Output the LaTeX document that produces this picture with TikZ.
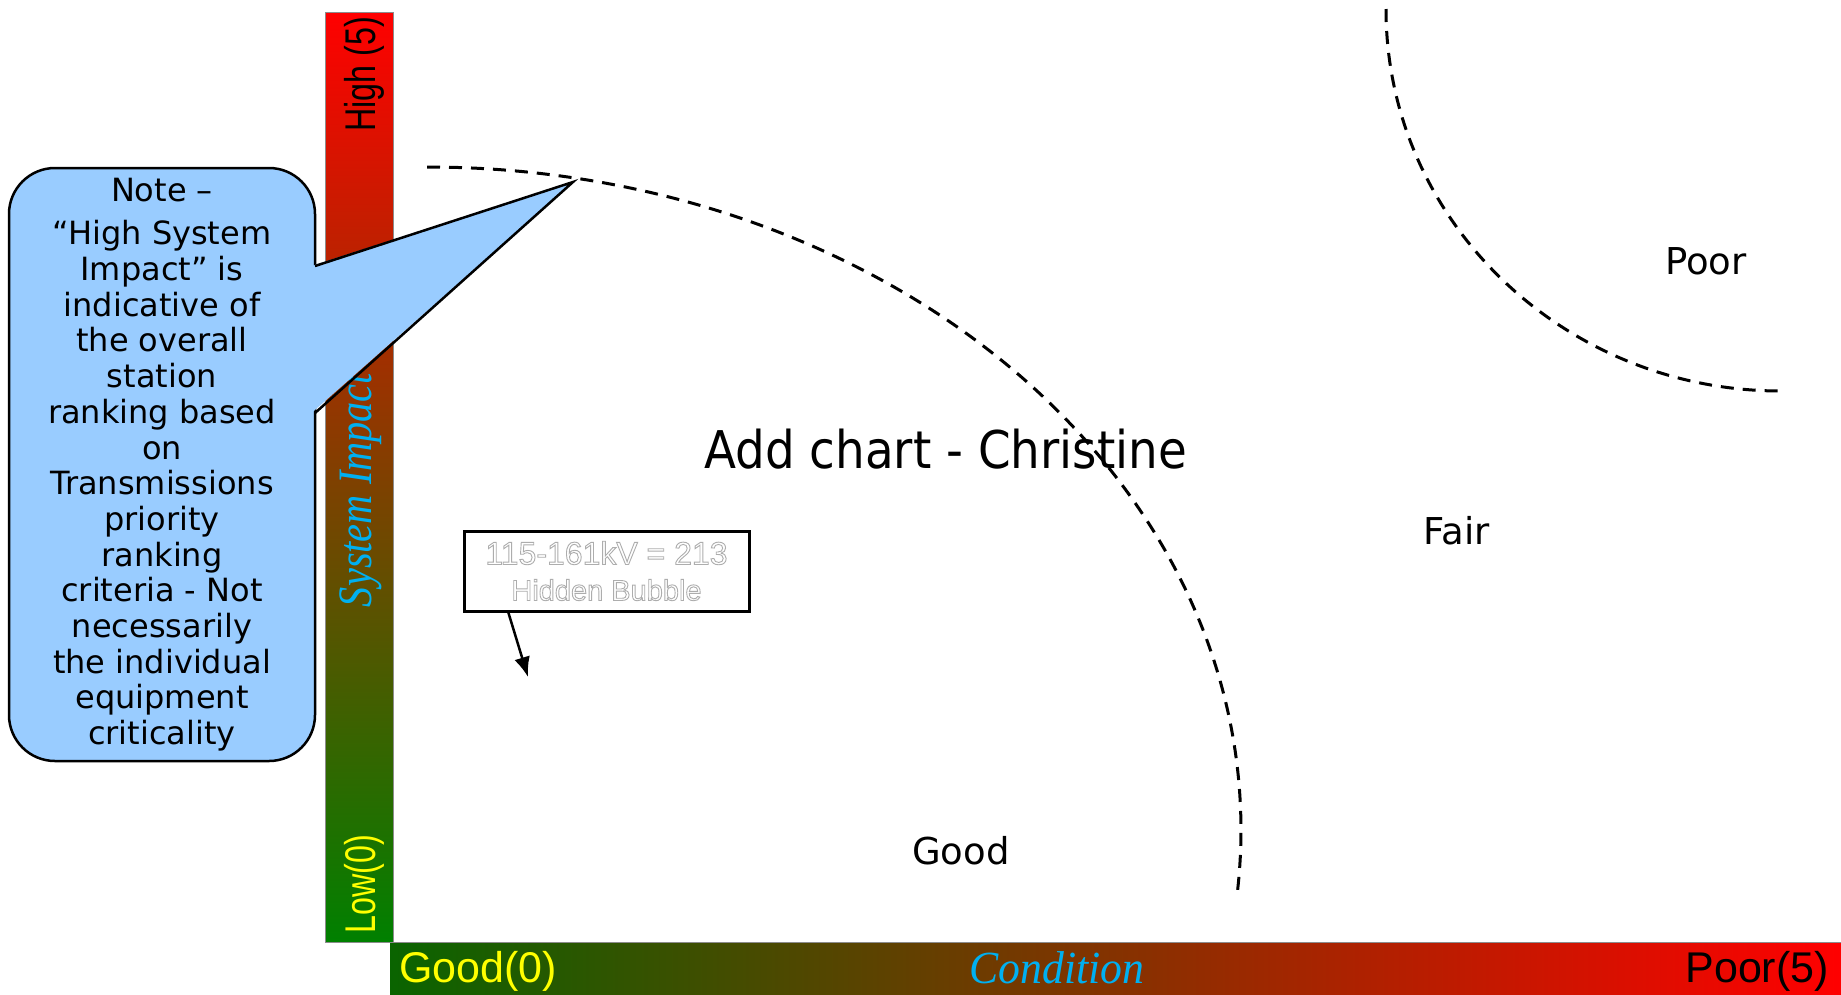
\documentclass[tikz,border=0pt]{standalone}
\usepackage{fontspec}
\usetikzlibrary{arrows.meta,calc}
\newfontfamily\verd{DejaVu Sans}
\newfontfamily\tah[FakeStretch=0.9]{DejaVu Sans}
\newfontfamily\ari{Liberation Sans}
\newfontfamily\arn[FakeStretch=0.75]{Liberation Sans}
\newfontfamily\tnrs[FakeStretch=0.84]{Liberation Serif}
\newfontfamily\tnrc[FakeStretch=0.95]{Liberation Serif}
\definecolor{calloutblue}{RGB}{153,204,255}
\definecolor{axisyellow}{RGB}{255,255,0}
\definecolor{axiscyan}{RGB}{0,176,240}
\definecolor{barred}{RGB}{255,0,0}
\definecolor{bargreen}{RGB}{0,128,0}
\definecolor{bargreenh}{RGB}{10,100,0}
% white text with a thin grey outline (fill + stroke text rendering mode)
\newcommand\outlinetext[1]{\textcolor{white}{\special{pdf:literal direct 0.68 G 0.9 w 2 Tr}#1\special{pdf:literal direct 0 Tr}}}
\begin{document}
\begin{tikzpicture}[x=1pt,y=1pt,
  dashedarc/.style={dash pattern=on 13pt off 9pt, line width=3pt},
  vlabel/.style={rotate=90, inner sep=0pt, font={\arn\fontsize{43}{48}\selectfont}},
  hlabel/.style={inner sep=0pt, font={\ari\fontsize{43}{48}\selectfont}},
  zonelabel/.style={inner sep=0pt, font={\verd\fontsize{37}{42}\selectfont}},
  thickline/.style={line width=2.5pt}]
\useasboundingbox (0,0) rectangle (1841,-994);
\fill[white] (0,0) rectangle (1841,-994);

% axis bars
\shadedraw[top color=barred, bottom color=bargreen, draw=black!45, line width=1pt] (325,-12) rectangle (393,-942);
\shade[left color=bargreenh, right color=barred] (390,-942) rectangle (1841,-994);
\draw[black!45, line width=1pt] (390,-942) -- (1841,-942);

% axis labels
\node[vlabel, text=black] (high) at (364,-74.5) {High (5)};
\node[vlabel, text=axisyellow] (low) at (364,-884.5) {Low(0)};
\node[rotate=90, inner sep=0pt, text=axiscyan, font={\tnrs\itshape\fontsize{48}{52}\selectfont}] (sysimp) at (361,-490) {System Impact};
\node[hlabel, anchor=west, text=axisyellow] (good0) at (399,-971.5) {Good(0)};
\node[hlabel, anchor=east, text=black] (poor5) at (1829,-971.5) {Poor(5)};
\node[anchor=base, inner sep=0pt, text=axiscyan, font={\tnrc\itshape\fontsize{46}{50}\selectfont}] (cond) at (1057,-983) {Condition};

% zone labels
\node[anchor=base, inner sep=0pt, font={\tah\fontsize{52}{58}\selectfont}] (addchart) at (945.5,-468) {Add chart - Christine};
\node[zonelabel] (goodlbl) at (961,-851) {Good};
\node[zonelabel] (fairlbl) at (1457,-531) {Fair};
\node[zonelabel] (poorlbl) at (1706,-261) {Poor};

% dashed boundaries
\coordinate (bigarcstart) at (427,-167);
\draw[dashedarc] (bigarcstart) arc[start angle=90, end angle=-5.5, x radius=814, y radius=663];
\coordinate (poorarcstart) at (1386,-9);
\draw[dashedarc] (poorarcstart) arc[start angle=180, end angle=270, x radius=395, y radius=382];

% hidden bubble
\node[draw=black, line width=3pt, fill=white, minimum width=285pt, minimum height=80pt, inner sep=0pt, outer sep=0pt, align=center, font={\ari\fontsize{32}{36}\selectfont}] (hb) at (606.5,-571)
  {\outlinetext{115-161kV = 213}\\\fontsize{29}{36}\selectfont\outlinetext{Hidden Bubble}};
\coordinate (hbtip) at (528,-677);
\draw[thickline, -{Latex[length=20pt,width=16pt]}] ($(hb.south west)!0.154!(hb.south east)$) -- (hbtip);

% callout
\node[draw=black, thickline, fill=calloutblue, rounded corners=46pt, minimum width=306pt, minimum height=593pt, inner sep=0pt, outer sep=0pt, align=center, font={\verd\fontsize{32}{35.7}\selectfont}] (note) at (162,-464.5)
  {Note –\\[8pt]“High System\\Impact” is\\indicative of\\the overall\\station\\ranking based\\on\\Transmissions\\priority\\ranking\\criteria - Not\\necessarily\\the individual\\equipment\\criticality};
\coordinate (tip) at (573,-182);
\coordinate (wa) at ($(note.north east)+(0,-98)$);
\coordinate (wb) at ($(note.north east)+(0,-245)$);
\fill[calloutblue] ($(wa)+(-3.5,0)$) -- (tip) -- ($(wb)+(-3.5,0)$) -- cycle;
\draw[thickline, line join=miter] (wa) -- (tip) -- (wb);
\end{tikzpicture}
\end{document}
